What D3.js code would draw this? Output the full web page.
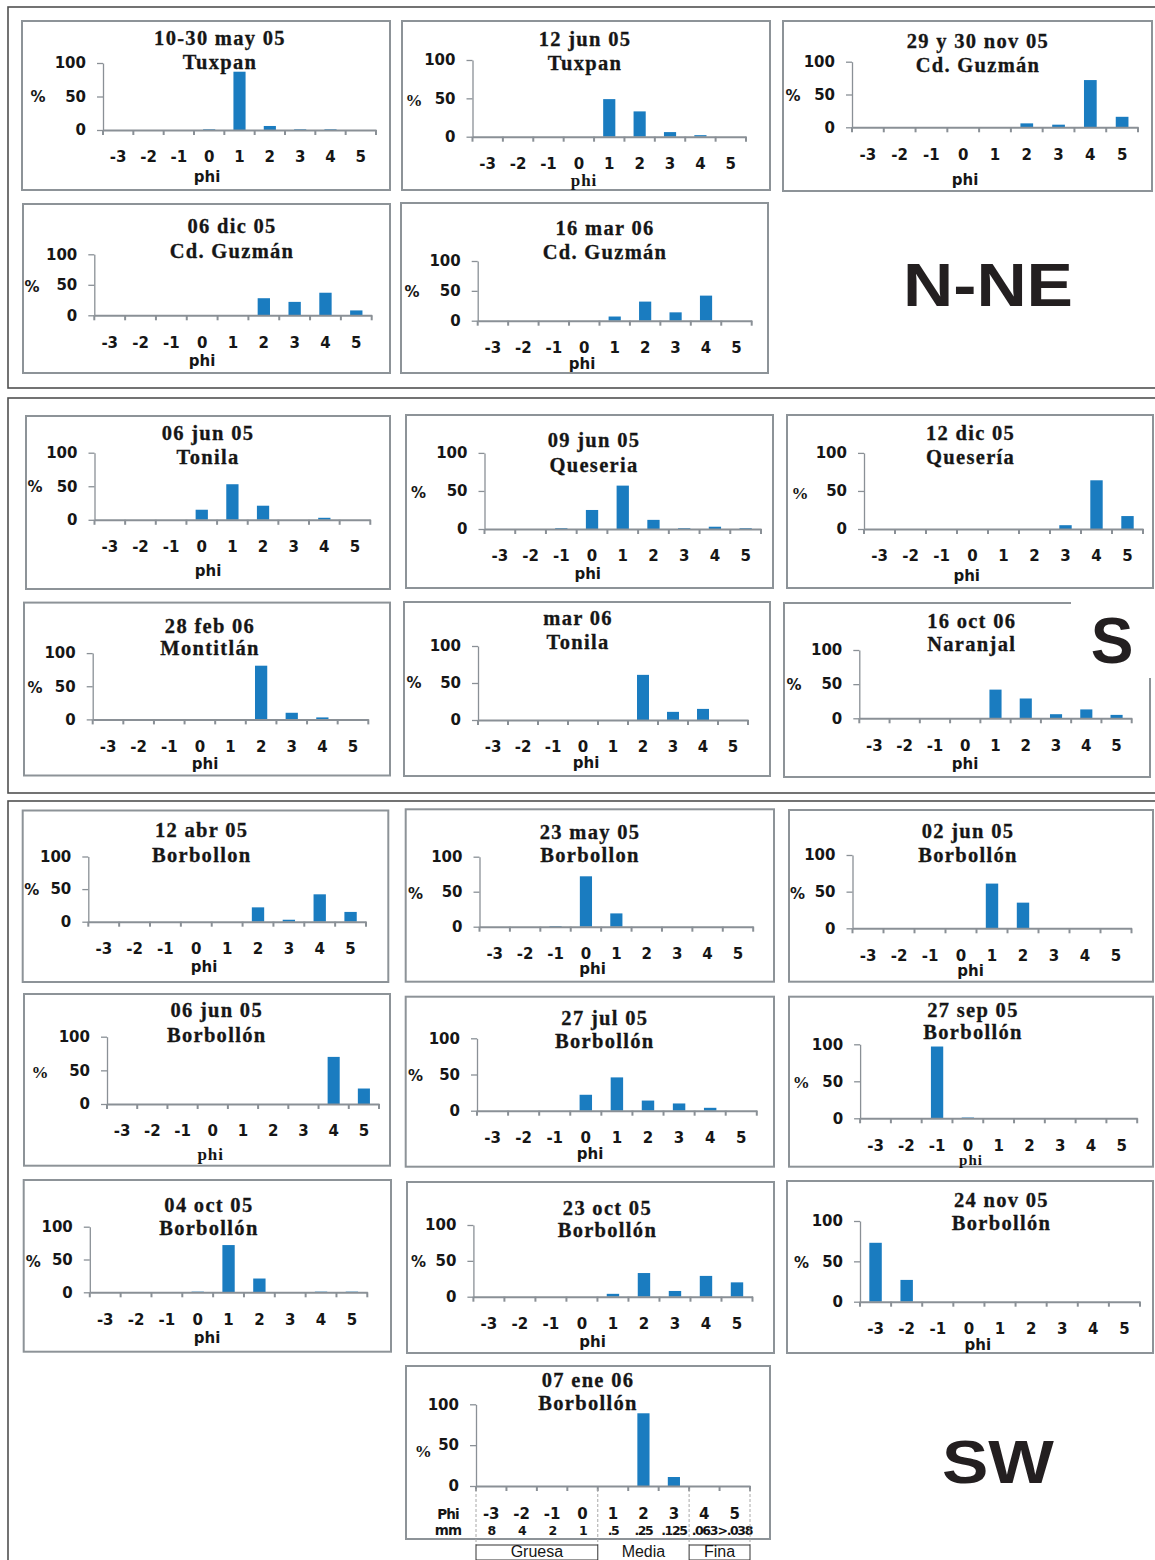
<!DOCTYPE html>
<html><head><meta charset="utf-8">
<script src="https://cdn.jsdelivr.net/npm/d3@7"></script>
<style>body{margin:0;background:#fff}</style>
</head><body>
<svg id="c" width="1155" height="1560"></svg>
<script>
// ---------- DATA ----------
const categories = [-3, -2, -1, 0, 1, 2, 3, 4, 5];
const yTicks = [0, 50, 100];
const mmLabels = ["8", "4", "2", "1", ".5", ".25", ".125", ".063", ">.038"];
const sizeClasses = ["Gruesa", "Media", "Fina"];
const sizeClassRanges = [[-3, 0], [1, 3], [4, 5]];
const groupNames = ["N-NE", "S", "SW"];

const titles = [
  ["10-30 may 05", "Tuxpan"],
  ["12 jun 05", "Tuxpan"],
  ["29 y 30 nov 05", "Cd. Guzmán"],
  ["06 dic 05", "Cd. Guzmán"],
  ["16 mar 06", "Cd. Guzmán"],
  ["06 jun 05", "Tonila"],
  ["09 jun 05", "Queseria"],
  ["12 dic 05", "Quesería"],
  ["28 feb 06", "Montitlán"],
  ["mar 06", "Tonila"],
  ["16 oct 06", "Naranjal"],
  ["12 abr 05", "Borbollon"],
  ["23 may 05", "Borbollon"],
  ["02 jun 05", "Borbollón"],
  ["06 jun 05", "Borbollón"],
  ["27 jul 05", "Borbollón"],
  ["27 sep 05", "Borbollón"],
  ["04 oct 05", "Borbollón"],
  ["23 oct 05", "Borbollón"],
  ["24 nov 05", "Borbollón"],
  ["07 ene 06", "Borbollón"]
];

// percentages per phi class (-3 .. 5)
const tuxpanMay05   = [0, 0, 0, 1, 87, 6, 1, 1, 0];
const tuxpanJun05   = [0, 0, 0, 0, 49, 33, 6, 2, 0];
const guzmanNov05   = [0, 0, 0, 0, 0, 6, 4, 72, 16];
const guzmanDic05   = [0, 0, 0, 0, 0, 28, 22, 37, 8];
const guzmanMar06   = [0, 0, 0, 0, 7, 32, 14, 42, 0];
const tonilaJun05   = [0, 0, 0, 15, 53, 21, 0, 3, 0];
const queseriaJun05 = [0, 0, 1, 25, 57, 12, 1, 3, 1];
const queseriaDic05 = [0, 0, 0, 0, 0, 0, 5, 64, 17];
const montitlanFeb06= [0, 0, 0, 0, 0, 81, 10, 3, 0];
const tonilaMar06   = [0, 0, 0, 0, 0, 61, 11, 15, 0];
const naranjalOct06 = [0, 0, 0, 0, 42, 29, 6, 13, 5];
const borbAbr05     = [0, 0, 0, 0, 0, 22, 3, 42, 15];
const borbMay05     = [0, 0, 1, 72, 19, 0, 0, 0, 0];
const borbJun02     = [0, 0, 0, 0, 61, 35, 0, 0, 0];
const borbJun06     = [0, 0, 0, 0, 0, 0, 0, 70, 23];
const borbJul05     = [0, 0, 0, 22, 46, 14, 10, 4, 0];
const borbSep05     = [0, 0, 97, 1, 0, 0, 0, 0, 0];
const borbOct04     = [0, 0, 0, 1, 72, 21, 0, 1, 1];
const borbOct23     = [0, 0, 0, 0, 4, 33, 8, 29, 20];
const borbNov05     = [73, 27, 0, 0, 0, 0, 0, 0, 0];
const borbEne06     = [0, 0, 0, 0, 0, 89, 11, 0, 0];

const panelValues = [tuxpanMay05, tuxpanJun05, guzmanNov05, guzmanDic05, guzmanMar06,
  tonilaJun05, queseriaJun05, queseriaDic05, montitlanFeb06, tonilaMar06, naranjalOct06,
  borbAbr05, borbMay05, borbJun02, borbJun06, borbJul05, borbSep05, borbOct04, borbOct23,
  borbNov05, borbEne06];

// ---------- LAYOUT (positions only) ----------
const layout = [
  {box:[22,21,390,190],  plot:[103,376,130,63],        title:[220,38,62],        phi:[207,177],   pct:[38,97]},
  {box:[402,21,770,190], plot:[472.5,746,136.7,60],    title:[585,39,63],        phi:[584,180.5], pct:[414,100], phiSerif:true, pctSerif:true},
  {box:[783,21,1152,191],plot:[852,1138,127.3,61.7],   title:[978,41.5,65],      phi:[965,180],   pct:[793,96]},
  {box:[23,204,390,373], plot:[94.3,371.7,315.3,254.3],title:[232,226.7,251.7],  phi:[202,361],   pct:[32,286.7]},
  {box:[401,203,768,373],plot:[477.7,751.7,320.7,261], title:[605,228.3,252.3],  phi:[582,364],   pct:[412,291.7]},
  {box:[26,416,390,589], plot:[94.5,370.3,519.8,452.7],title:[208,433,457.3],    phi:[208,571.4], pct:[35,487]},
  {box:[406,415,773,588],plot:[484.5,761,529,452.9],   title:[594,440.6,465.4],  phi:[587.7,574], pct:[418.4,492.5]},
  {box:[787,415,1153,588],plot:[864,1143,529,452.9],   title:[970.6,433,457.1],  phi:[966.7,576], pct:[800,492.5], pctSerif:true},
  {box:[24,602.6,390,775.5],plot:[92.7,368.3,719.4,653.1],title:[210,626,647.8], phi:[205,764],   pct:[35,688]},
  {box:[404,602,770,776],plot:[478,748,720,646],       title:[578,618,642],      phi:[586,763],   pct:[414,683]},
  {box:[784,603,1150,777],plot:[859.3,1131.7,718.3,650],title:[971.7,621.7,644.3],phi:[965,764], pct:[794,685]},
  {box:[22.7,810.5,388.3,982],plot:[88.3,366,921.7,856.5],title:[201.7,830.5,855.7],phi:[204,967.5],pct:[31.7,889.6]},
  {box:[405.7,809.3,774,981.7],plot:[479.5,753.2,926.7,856.7],title:[590,832.3,855],phi:[592.6,969.5],pct:[415.5,893.3]},
  {box:[789,810,1153,981.7],plot:[852.5,1131.5,928.3,855],title:[968,831.7,855],  phi:[970.6,971.5],pct:[797.4,893.3]},
  {box:[24,994,390,1165.7],plot:[107,379,1104,1036.7], title:[216.7,1010.7,1035],phi:[210.7,1154],pct:[40,1071.7], phiSerif:true, pctSerif:true},
  {box:[405.7,996.7,774,1166.7],plot:[477,756.8,1110.7,1038.3],title:[604.8,1018.3,1041.7],phi:[590,1154.5],pct:[415.5,1076]},
  {box:[789,996.7,1153,1166.7],plot:[860.1,1137.2,1118.3,1044.3],title:[973,1010.7,1032.7],phi:[971,1160.5],pct:[801.3,1081.7], phiSerif:true, pctSerif:true, phiSize:15},
  {box:[23.7,1180,391,1351.7],plot:[89.8,367.3,1292.3,1226.7],title:[208.9,1205,1228.3],phi:[207,1338.3],pct:[33.3,1261.7]},
  {box:[407,1182,774,1353],plot:[473.4,752.5,1296.7,1225],title:[607.4,1208.3,1230],phi:[592.6,1342],pct:[418.5,1261.7]},
  {box:[787,1181,1153,1353],plot:[860,1140,1301.7,1221],title:[1001.5,1200,1223.3],phi:[977.8,1345],pct:[801.5,1262.7]},
  {box:[406,1366,770,1539],plot:[476,750,1486,1404.3],title:[588,1380.7,1403.3],pct:[423.3,1450.7], pctSerif:true, special:true}
];

// ---------- DRAW ----------
const svg = d3.select("#c");
svg.append("rect").attr("width",1155).attr("height",1560).attr("fill","#fff");

const SANS = "'DejaVu Sans', Verdana, sans-serif";
const SERIF = "'Liberation Serif', 'Times New Roman', serif";
const BIG = "'Liberation Sans', Arial, sans-serif";
const BAR = "#1a7cc0";
const AXIS = "#8a9096";
const TXT = "#161616";
const FS = 15;

// group frames
[[8,7,1170,381],[8,398,1170,395],[8,801,1170,790]].forEach(r => {
  svg.append("rect").attr("x",r[0]).attr("y",r[1]).attr("width",r[2]).attr("height",r[3])
    .attr("fill","none").attr("stroke","#505050").attr("stroke-width",1.6);
});

function drawPanel(i) {
  const L = layout[i];
  const g = svg.append("g");
  g.append("rect").attr("x",L.box[0]).attr("y",L.box[1])
    .attr("width",L.box[2]-L.box[0]).attr("height",L.box[3]-L.box[1])
    .attr("fill","#fff").attr("stroke","#8d9398").attr("stroke-width",2);

  const x = d3.scaleBand().domain(categories).range([L.plot[0], L.plot[1]]).padding(0);
  const y = d3.scaleLinear().domain([0,100]).range([L.plot[2], L.plot[3]]);
  const y0 = y(0);

  // title
  const t = g.append("g").attr("font-family",SERIF).attr("font-weight","bold")
    .attr("font-size",20.5).attr("letter-spacing","1.3px").attr("fill",TXT).attr("text-anchor","middle")
    .attr("stroke",TXT).attr("stroke-width",0.3);
  t.append("text").attr("x",L.title[0]).attr("y",L.title[1]).attr("dy","0.33em").text(titles[i][0]);
  t.append("text").attr("x",L.title[0]).attr("y",L.title[2]).attr("dy","0.33em").text(titles[i][1]);

  // bars
  const data = categories.map((c,k) => ({c, v: panelValues[i][k]})).filter(d => d.v > 0);
  g.selectAll("rect.bar").data(data).join("rect").attr("class","bar")
    .attr("x", d => x(d.c) + x.bandwidth()*0.3)
    .attr("width", x.bandwidth()*0.4)
    .attr("y", d => y(d.v))
    .attr("height", d => y0 - y(d.v))
    .attr("fill", BAR);

  // y axis
  const ya = g.append("g").attr("transform",`translate(${L.plot[0]},0)`)
    .call(d3.axisLeft(y).tickValues(yTicks).tickSize(6).tickSizeOuter(0).tickPadding(11));
  ya.select(".domain").attr("stroke",AXIS).attr("stroke-width",1.3);
  ya.selectAll(".tick line").attr("stroke",AXIS).attr("stroke-width",1.3);
  ya.selectAll(".tick text").attr("font-family",SANS).attr("font-weight","bold")
    .attr("font-size",FS).attr("fill",TXT);

  // x axis
  const xa = g.append("g").attr("transform",`translate(0,${y0})`)
    .call(d3.axisBottom(x).tickSize(0).tickSizeOuter(0));
  xa.select(".domain").attr("stroke",AXIS).attr("stroke-width",2);
  const bounds = d3.range(categories.length+1).map(k => x.range()[0] + k*x.step());
  xa.selectAll("line.bt").data(bounds).join("line").attr("class","bt")
    .attr("x1",d=>d).attr("x2",d=>d).attr("y1",0).attr("y2",5)
    .attr("stroke",AXIS).attr("stroke-width",2);

  if (!L.special) {
    xa.selectAll(".tick text").attr("y",27).attr("dy","0.36em")
      .attr("font-family",SANS).attr("font-weight","bold").attr("font-size",FS).attr("fill",TXT);
    g.append("text").attr("x",L.phi[0]).attr("y",L.phi[1]).attr("dy","0.33em")
      .attr("text-anchor","middle").attr("fill",TXT)
      .attr("font-family", L.phiSerif ? SERIF : SANS).attr("font-weight","bold")
      .attr("font-size", L.phiSize || (L.phiSerif ? 17 : FS))
      .attr("letter-spacing", L.phiSerif ? "1px" : "0px")
      .text("phi");
  } else {
    xa.selectAll(".tick text").attr("y",28).attr("dy","0.36em")
      .attr("font-family",SANS).attr("font-weight","bold").attr("font-size",FS).attr("fill",TXT);
    // mm row
    xa.selectAll("text.mm").data(categories).join("text").attr("class","mm")
      .attr("x", d => x(d) + x.bandwidth()/2).attr("y",44).attr("dy","0.36em")
      .attr("text-anchor","middle").attr("font-family",SANS).attr("font-weight","bold")
      .attr("font-size",12.5).attr("letter-spacing","-1.4px").attr("fill",TXT)
      .text((d,k) => mmLabels[k]);
    xa.append("text").attr("x",L.plot[0]-28).attr("y",28).attr("dy","0.36em")
      .attr("text-anchor","middle").attr("font-family",SANS).attr("font-weight","bold")
      .attr("font-size",13.5).attr("letter-spacing","-0.8px").attr("fill",TXT).text("Phi");
    xa.append("text").attr("x",L.plot[0]-28).attr("y",44).attr("dy","0.36em")
      .attr("text-anchor","middle").attr("font-family",SANS).attr("font-weight","bold")
      .attr("font-size",13.5).attr("letter-spacing","-0.8px").attr("fill",TXT).text("mm");
    // size class dividers and labels
    const lines = sizeClassRanges.map(r => x(r[0])).concat([x(sizeClassRanges[2][1]) + x.bandwidth()]);
    xa.selectAll("line.div").data(lines).join("line").attr("class","div")
      .attr("x1",d=>d).attr("x2",d=>d).attr("y1",3).attr("y2",59)
      .attr("stroke","#a8a8a8").attr("stroke-width",1).attr("stroke-dasharray","3,2");
    sizeClasses.forEach((name, k) => {
      const a = x(sizeClassRanges[k][0]), b = x(sizeClassRanges[k][1]) + x.bandwidth();
      if (k !== 1) {
        xa.append("rect").attr("x",a).attr("y",59).attr("width",b-a).attr("height",15)
          .attr("fill","#fff").attr("stroke","#333").attr("stroke-width",1);
      }
      xa.append("text").attr("x",(a+b)/2).attr("y",71).attr("text-anchor","middle")
        .attr("font-family",BIG).attr("font-size",16).attr("fill",TXT).text(name);
    });
  }

  // % label
  g.append("text").attr("x",L.pct[0]).attr("y",L.pct[1]).attr("dy","0.36em")
    .attr("text-anchor","middle").attr("fill",TXT)
    .attr("font-family", L.pctSerif ? SERIF : SANS).attr("font-weight","bold")
    .attr("font-size", L.pctSerif ? 17 : FS).text("%");
}

layout.forEach((_, i) => drawPanel(i));

// region labels
svg.append("text").attr("x",988).attr("y",306).attr("text-anchor","middle")
  .attr("font-family",BIG).attr("font-weight","bold").attr("font-size",62)
  .attr("textLength",170).attr("lengthAdjust","spacingAndGlyphs").attr("fill","#231f20").text(groupNames[0]);
svg.append("rect").attr("x",1071).attr("y",598).attr("width",84).attr("height",80).attr("fill","#fff");
svg.append("text").attr("x",1112).attr("y",663).attr("text-anchor","middle")
  .attr("font-family",BIG).attr("font-weight","bold").attr("font-size",64)
  .attr("fill","#231f20").text(groupNames[1]);
svg.append("text").attr("x",998).attr("y",1483).attr("text-anchor","middle")
  .attr("font-family",BIG).attr("font-weight","bold").attr("font-size",61)
  .attr("textLength",112).attr("lengthAdjust","spacingAndGlyphs").attr("fill","#231f20").text(groupNames[2]);
</script>
</body></html>
